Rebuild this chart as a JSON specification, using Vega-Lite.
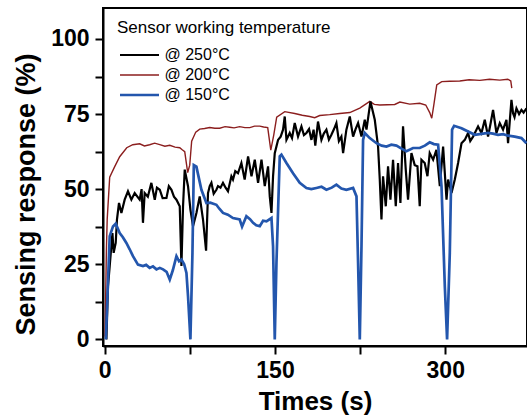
{
"$schema": "https://vega.github.io/schema/vega-lite/v6.json",
"width": 424,
"height": 338,
"autosize": "none",
"padding": {"left": 103, "top": 8, "right": 0, "bottom": 69},
"background": "white",
"config": {
 "view": {"stroke": "black", "strokeWidth": 2},
 "font": "Liberation Sans",
 "axis": {"domainColor": "black", "domainWidth": 2, "tickColor": "black", "tickWidth": 2, "tickSize": 8, "grid": false,
  "labelFont": "Liberation Sans", "labelFontWeight": "bold", "labelFontSize": 23, "labelColor": "black", "labelFlush": false,
  "titleFont": "Liberation Sans", "titleFontWeight": "bold", "titleColor": "black"},
 "legend": {"titleFont": "Liberation Sans", "titleFontWeight": "normal", "titleFontSize": 17, "titleColor": "black", "titleLimit": 400,
  "labelFont": "Liberation Sans", "labelFontSize": 16, "labelColor": "black"}
},
"datasets": {
 "d200": [
  {"time":0.3,"response":1,"series":"@ 200°C"},{"time":1.5,"response":30,"series":"@ 200°C"},{"time":2.2,"response":40,"series":"@ 200°C"},{"time":4.4,"response":54,"series":"@ 200°C"},{"time":8.8,"response":57.5,"series":"@ 200°C"},{"time":13.2,"response":60.8,"series":"@ 200°C"},{"time":19.4,"response":63.8,"series":"@ 200°C"},{"time":24.7,"response":64.8,"series":"@ 200°C"},{"time":30.8,"response":65.1,"series":"@ 200°C"},{"time":35,"response":64.4,"series":"@ 200°C"},{"time":39.6,"response":64.8,"series":"@ 200°C"},{"time":44,"response":65.3,"series":"@ 200°C"},{"time":48.5,"response":64.8,"series":"@ 200°C"},{"time":53,"response":64.3,"series":"@ 200°C"},{"time":57.3,"response":64.6,"series":"@ 200°C"},{"time":62,"response":64,"series":"@ 200°C"},{"time":66.1,"response":63.8,"series":"@ 200°C"},{"time":68,"response":63.2,"series":"@ 200°C"},{"time":70.5,"response":62.5,"series":"@ 200°C"},{"time":73.1,"response":55.5,"series":"@ 200°C"},{"time":74.9,"response":58,"series":"@ 200°C"},{"time":76.6,"response":66,"series":"@ 200°C"},{"time":80.2,"response":69,"series":"@ 200°C"},{"time":83.7,"response":70,"series":"@ 200°C"},{"time":88,"response":70.2,"series":"@ 200°C"},{"time":92.5,"response":70.5,"series":"@ 200°C"},{"time":97,"response":70.3,"series":"@ 200°C"},{"time":101.3,"response":70.3,"series":"@ 200°C"},{"time":106,"response":70.8,"series":"@ 200°C"},{"time":110.1,"response":70.6,"series":"@ 200°C"},{"time":114,"response":70.4,"series":"@ 200°C"},{"time":118.9,"response":70.8,"series":"@ 200°C"},{"time":123.5,"response":70.5,"series":"@ 200°C"},{"time":127.8,"response":70.5,"series":"@ 200°C"},{"time":132,"response":71,"series":"@ 200°C"},{"time":136.6,"response":71,"series":"@ 200°C"},{"time":140,"response":70.7,"series":"@ 200°C"},{"time":143.6,"response":70.5,"series":"@ 200°C"},{"time":146.3,"response":63,"series":"@ 200°C"},{"time":148.9,"response":68,"series":"@ 200°C"},{"time":151.5,"response":74,"series":"@ 200°C"},{"time":158.6,"response":75.8,"series":"@ 200°C"},{"time":167.4,"response":75.2,"series":"@ 200°C"},{"time":174,"response":74.6,"series":"@ 200°C"},{"time":180.6,"response":74.2,"series":"@ 200°C"},{"time":185,"response":73.8,"series":"@ 200°C"},{"time":189.4,"response":74.5,"series":"@ 200°C"},{"time":198.2,"response":74.8,"series":"@ 200°C"},{"time":207,"response":75.2,"series":"@ 200°C"},{"time":215.9,"response":75.5,"series":"@ 200°C"},{"time":224.7,"response":77,"series":"@ 200°C"},{"time":233.5,"response":79.2,"series":"@ 200°C"},{"time":237.5,"response":78.2,"series":"@ 200°C"},{"time":242.3,"response":78,"series":"@ 200°C"},{"time":255.5,"response":78.2,"series":"@ 200°C"},{"time":260,"response":79,"series":"@ 200°C"},{"time":268.7,"response":78.3,"series":"@ 200°C"},{"time":277.5,"response":78.6,"series":"@ 200°C"},{"time":282.8,"response":78,"series":"@ 200°C"},{"time":286.3,"response":75.5,"series":"@ 200°C"},{"time":288.1,"response":73.6,"series":"@ 200°C"},{"time":289.9,"response":78,"series":"@ 200°C"},{"time":292.5,"response":84.7,"series":"@ 200°C"},{"time":296.9,"response":85.8,"series":"@ 200°C"},{"time":304,"response":85.9,"series":"@ 200°C"},{"time":312.8,"response":86,"series":"@ 200°C"},{"time":321,"response":86.4,"series":"@ 200°C"},{"time":330.4,"response":86.2,"series":"@ 200°C"},{"time":339,"response":86.6,"series":"@ 200°C"},{"time":348,"response":86.3,"series":"@ 200°C"},{"time":355.1,"response":86.6,"series":"@ 200°C"},{"time":357.7,"response":86,"series":"@ 200°C"},{"time":358.6,"response":83.6,"series":"@ 200°C"}
 ],
 "d250": [
  {"time":1.5,"response":0,"series":"@ 250°C"},{"time":2.9,"response":17.7,"series":"@ 250°C"},{"time":4.4,"response":24.4,"series":"@ 250°C"},{"time":6.8,"response":35.4,"series":"@ 250°C"},{"time":7.9,"response":28.8,"series":"@ 250°C"},{"time":9.7,"response":32.1,"series":"@ 250°C"},{"time":10.8,"response":39.9,"series":"@ 250°C"},{"time":12.6,"response":45.4,"series":"@ 250°C"},{"time":14.7,"response":42.1,"series":"@ 250°C"},{"time":17.6,"response":46.5,"series":"@ 250°C"},{"time":20.5,"response":49.3,"series":"@ 250°C"},{"time":23.5,"response":46.5,"series":"@ 250°C"},{"time":26.4,"response":48.7,"series":"@ 250°C"},{"time":30.8,"response":46.5,"series":"@ 250°C"},{"time":32.5,"response":50,"series":"@ 250°C"},{"time":33.7,"response":38.8,"series":"@ 250°C"},{"time":35.2,"response":48.7,"series":"@ 250°C"},{"time":38,"response":47.5,"series":"@ 250°C"},{"time":41.1,"response":52.1,"series":"@ 250°C"},{"time":44.1,"response":46.5,"series":"@ 250°C"},{"time":46,"response":50.5,"series":"@ 250°C"},{"time":48.5,"response":49.8,"series":"@ 250°C"},{"time":51,"response":47,"series":"@ 250°C"},{"time":54.4,"response":47.1,"series":"@ 250°C"},{"time":56.5,"response":51,"series":"@ 250°C"},{"time":58.8,"response":49.8,"series":"@ 250°C"},{"time":61,"response":47.5,"series":"@ 250°C"},{"time":63.2,"response":46.5,"series":"@ 250°C"},{"time":66.1,"response":44.3,"series":"@ 250°C"},{"time":67.6,"response":24.4,"series":"@ 250°C"},{"time":69,"response":44.3,"series":"@ 250°C"},{"time":70.5,"response":56.5,"series":"@ 250°C"},{"time":73.4,"response":51,"series":"@ 250°C"},{"time":75.5,"response":43.2,"series":"@ 250°C"},{"time":77.8,"response":37.7,"series":"@ 250°C"},{"time":80.8,"response":42.1,"series":"@ 250°C"},{"time":83.7,"response":47.6,"series":"@ 250°C"},{"time":86.6,"response":39.9,"series":"@ 250°C"},{"time":89.3,"response":29.5,"series":"@ 250°C"},{"time":91,"response":48.7,"series":"@ 250°C"},{"time":92.5,"response":51,"series":"@ 250°C"},{"time":94,"response":52.1,"series":"@ 250°C"},{"time":96,"response":48.5,"series":"@ 250°C"},{"time":98.4,"response":49.8,"series":"@ 250°C"},{"time":99.8,"response":51,"series":"@ 250°C"},{"time":102,"response":50.5,"series":"@ 250°C"},{"time":104.2,"response":52.1,"series":"@ 250°C"},{"time":106.5,"response":50.5,"series":"@ 250°C"},{"time":108.6,"response":49.3,"series":"@ 250°C"},{"time":111.6,"response":54.3,"series":"@ 250°C"},{"time":113,"response":53.2,"series":"@ 250°C"},{"time":115,"response":56,"series":"@ 250°C"},{"time":117.4,"response":55.3,"series":"@ 250°C"},{"time":120.4,"response":58.7,"series":"@ 250°C"},{"time":123.3,"response":53.2,"series":"@ 250°C"},{"time":126.3,"response":60.9,"series":"@ 250°C"},{"time":129.3,"response":54.3,"series":"@ 250°C"},{"time":132.2,"response":59.8,"series":"@ 250°C"},{"time":135.1,"response":52.1,"series":"@ 250°C"},{"time":138.1,"response":59.8,"series":"@ 250°C"},{"time":141,"response":51,"series":"@ 250°C"},{"time":143.9,"response":57.6,"series":"@ 250°C"},{"time":145.4,"response":47.6,"series":"@ 250°C"},{"time":146.9,"response":42.1,"series":"@ 250°C"},{"time":148.3,"response":54.3,"series":"@ 250°C"},{"time":149.8,"response":62,"series":"@ 250°C"},{"time":152.7,"response":66.4,"series":"@ 250°C"},{"time":155,"response":67.5,"series":"@ 250°C"},{"time":157.1,"response":69.8,"series":"@ 250°C"},{"time":158.6,"response":74.2,"series":"@ 250°C"},{"time":160.1,"response":66.4,"series":"@ 250°C"},{"time":163,"response":68.7,"series":"@ 250°C"},{"time":165,"response":67,"series":"@ 250°C"},{"time":167.4,"response":72,"series":"@ 250°C"},{"time":170.3,"response":67.5,"series":"@ 250°C"},{"time":173.3,"response":70.9,"series":"@ 250°C"},{"time":175.5,"response":68,"series":"@ 250°C"},{"time":177.7,"response":68.7,"series":"@ 250°C"},{"time":180,"response":70,"series":"@ 250°C"},{"time":182.1,"response":66.4,"series":"@ 250°C"},{"time":184,"response":69.8,"series":"@ 250°C"},{"time":185.5,"response":64.5,"series":"@ 250°C"},{"time":187.9,"response":72.5,"series":"@ 250°C"},{"time":190.9,"response":66.4,"series":"@ 250°C"},{"time":193,"response":68.5,"series":"@ 250°C"},{"time":195.3,"response":69.8,"series":"@ 250°C"},{"time":197.5,"response":66.5,"series":"@ 250°C"},{"time":199.7,"response":68.1,"series":"@ 250°C"},{"time":202,"response":70,"series":"@ 250°C"},{"time":204.1,"response":72,"series":"@ 250°C"},{"time":206.3,"response":66,"series":"@ 250°C"},{"time":208.5,"response":67.5,"series":"@ 250°C"},{"time":210,"response":62,"series":"@ 250°C"},{"time":212.9,"response":69.8,"series":"@ 250°C"},{"time":215.9,"response":74.2,"series":"@ 250°C"},{"time":218.8,"response":67.5,"series":"@ 250°C"},{"time":221,"response":70,"series":"@ 250°C"},{"time":223.2,"response":72,"series":"@ 250°C"},{"time":226.2,"response":67.5,"series":"@ 250°C"},{"time":229.1,"response":73.1,"series":"@ 250°C"},{"time":230.6,"response":69.8,"series":"@ 250°C"},{"time":234.1,"response":79.2,"series":"@ 250°C"},{"time":237.9,"response":73.1,"series":"@ 250°C"},{"time":240.8,"response":64.2,"series":"@ 250°C"},{"time":242.3,"response":53.2,"series":"@ 250°C"},{"time":243.8,"response":39.9,"series":"@ 250°C"},{"time":245.2,"response":54.3,"series":"@ 250°C"},{"time":247.6,"response":44.3,"series":"@ 250°C"},{"time":249.6,"response":57.6,"series":"@ 250°C"},{"time":251.7,"response":46.5,"series":"@ 250°C"},{"time":254,"response":59.8,"series":"@ 250°C"},{"time":256.4,"response":44.3,"series":"@ 250°C"},{"time":258.4,"response":58.7,"series":"@ 250°C"},{"time":260.5,"response":45.4,"series":"@ 250°C"},{"time":262.8,"response":70.9,"series":"@ 250°C"},{"time":265.2,"response":56.5,"series":"@ 250°C"},{"time":267.2,"response":46.5,"series":"@ 250°C"},{"time":270.2,"response":62,"series":"@ 250°C"},{"time":273.1,"response":58,"series":"@ 250°C"},{"time":275.5,"response":57.6,"series":"@ 250°C"},{"time":277.5,"response":44.3,"series":"@ 250°C"},{"time":279,"response":59.8,"series":"@ 250°C"},{"time":281.9,"response":58.7,"series":"@ 250°C"},{"time":284.3,"response":54.3,"series":"@ 250°C"},{"time":286.3,"response":62,"series":"@ 250°C"},{"time":289.3,"response":59.8,"series":"@ 250°C"},{"time":292.2,"response":63.1,"series":"@ 250°C"},{"time":295.2,"response":51,"series":"@ 250°C"},{"time":298.1,"response":64.2,"series":"@ 250°C"},{"time":301.1,"response":46.5,"series":"@ 250°C"},{"time":302.5,"response":53.2,"series":"@ 250°C"},{"time":305.5,"response":48.7,"series":"@ 250°C"},{"time":308.4,"response":53.2,"series":"@ 250°C"},{"time":311.3,"response":58.7,"series":"@ 250°C"},{"time":314.3,"response":65.3,"series":"@ 250°C"},{"time":317.2,"response":66.4,"series":"@ 250°C"},{"time":320.1,"response":68.7,"series":"@ 250°C"},{"time":322,"response":66,"series":"@ 250°C"},{"time":324.5,"response":67.5,"series":"@ 250°C"},{"time":326.5,"response":69,"series":"@ 250°C"},{"time":328.9,"response":70.9,"series":"@ 250°C"},{"time":331.9,"response":68.7,"series":"@ 250°C"},{"time":334.8,"response":73.1,"series":"@ 250°C"},{"time":337.7,"response":67.5,"series":"@ 250°C"},{"time":340,"response":72,"series":"@ 250°C"},{"time":342.1,"response":76.4,"series":"@ 250°C"},{"time":345.1,"response":68.7,"series":"@ 250°C"},{"time":348,"response":72,"series":"@ 250°C"},{"time":350.9,"response":69.8,"series":"@ 250°C"},{"time":353.9,"response":73.1,"series":"@ 250°C"},{"time":355.3,"response":65.3,"series":"@ 250°C"},{"time":358.3,"response":79.7,"series":"@ 250°C"},{"time":359.7,"response":75.3,"series":"@ 250°C"},{"time":361,"response":74,"series":"@ 250°C"},{"time":362.7,"response":76.9,"series":"@ 250°C"},{"time":365,"response":75,"series":"@ 250°C"},{"time":367.1,"response":76.4,"series":"@ 250°C"},{"time":369,"response":75.5,"series":"@ 250°C"},{"time":371.5,"response":76.9,"series":"@ 250°C"}
 ],
 "d150": [
  {"time":1,"response":0,"series":"@ 150°C"},{"time":2.5,"response":15,"series":"@ 150°C"},{"time":4.4,"response":34.3,"series":"@ 150°C"},{"time":7.3,"response":37.6,"series":"@ 150°C"},{"time":9.7,"response":38.5,"series":"@ 150°C"},{"time":13.2,"response":35.4,"series":"@ 150°C"},{"time":16,"response":34,"series":"@ 150°C"},{"time":19.1,"response":32.1,"series":"@ 150°C"},{"time":22,"response":30,"series":"@ 150°C"},{"time":24.9,"response":27.7,"series":"@ 150°C"},{"time":29.3,"response":24.9,"series":"@ 150°C"},{"time":33.7,"response":24.4,"series":"@ 150°C"},{"time":36.5,"response":24.8,"series":"@ 150°C"},{"time":39.6,"response":23.8,"series":"@ 150°C"},{"time":42.5,"response":24.3,"series":"@ 150°C"},{"time":45.6,"response":23.3,"series":"@ 150°C"},{"time":48.5,"response":23.8,"series":"@ 150°C"},{"time":51.4,"response":23.3,"series":"@ 150°C"},{"time":54.5,"response":22.5,"series":"@ 150°C"},{"time":57.3,"response":19.9,"series":"@ 150°C"},{"time":60,"response":23,"series":"@ 150°C"},{"time":63.2,"response":27.7,"series":"@ 150°C"},{"time":65.5,"response":26,"series":"@ 150°C"},{"time":67.6,"response":26.6,"series":"@ 150°C"},{"time":70,"response":25,"series":"@ 150°C"},{"time":72,"response":22.1,"series":"@ 150°C"},{"time":73.4,"response":14.4,"series":"@ 150°C"},{"time":75.5,"response":0,"series":"@ 150°C"},{"time":77.3,"response":28.8,"series":"@ 150°C"},{"time":78.5,"response":58,"series":"@ 150°C"},{"time":80.8,"response":57.5,"series":"@ 150°C"},{"time":82.2,"response":55,"series":"@ 150°C"},{"time":85.2,"response":49.8,"series":"@ 150°C"},{"time":89.6,"response":45.4,"series":"@ 150°C"},{"time":93,"response":45.5,"series":"@ 150°C"},{"time":98.4,"response":44.8,"series":"@ 150°C"},{"time":101,"response":43.5,"series":"@ 150°C"},{"time":104.2,"response":42.1,"series":"@ 150°C"},{"time":108.5,"response":41.5,"series":"@ 150°C"},{"time":113,"response":40.4,"series":"@ 150°C"},{"time":118.9,"response":39.9,"series":"@ 150°C"},{"time":121,"response":37.5,"series":"@ 150°C"},{"time":124.8,"response":41,"series":"@ 150°C"},{"time":128,"response":40,"series":"@ 150°C"},{"time":130.7,"response":38.8,"series":"@ 150°C"},{"time":133.5,"response":38,"series":"@ 150°C"},{"time":136.6,"response":37.7,"series":"@ 150°C"},{"time":139.5,"response":39.5,"series":"@ 150°C"},{"time":142.5,"response":39.3,"series":"@ 150°C"},{"time":146.9,"response":40.4,"series":"@ 150°C"},{"time":148.3,"response":31,"series":"@ 150°C"},{"time":149.8,"response":0,"series":"@ 150°C"},{"time":151.3,"response":25.6,"series":"@ 150°C"},{"time":154.2,"response":60.9,"series":"@ 150°C"},{"time":155.7,"response":61.5,"series":"@ 150°C"},{"time":160.1,"response":58.7,"series":"@ 150°C"},{"time":165.9,"response":55.3,"series":"@ 150°C"},{"time":171.8,"response":52.1,"series":"@ 150°C"},{"time":177.7,"response":50.4,"series":"@ 150°C"},{"time":182,"response":50,"series":"@ 150°C"},{"time":186.5,"response":50.4,"series":"@ 150°C"},{"time":191,"response":50.8,"series":"@ 150°C"},{"time":195.3,"response":49.8,"series":"@ 150°C"},{"time":200,"response":50.5,"series":"@ 150°C"},{"time":204.1,"response":51.5,"series":"@ 150°C"},{"time":208.5,"response":50.2,"series":"@ 150°C"},{"time":212.9,"response":49.8,"series":"@ 150°C"},{"time":218.8,"response":50.4,"series":"@ 150°C"},{"time":221.8,"response":47.6,"series":"@ 150°C"},{"time":223.2,"response":25.5,"series":"@ 150°C"},{"time":224.7,"response":0,"series":"@ 150°C"},{"time":226.2,"response":31,"series":"@ 150°C"},{"time":227.6,"response":66.4,"series":"@ 150°C"},{"time":229.1,"response":68.7,"series":"@ 150°C"},{"time":233.5,"response":67,"series":"@ 150°C"},{"time":239.4,"response":65.3,"series":"@ 150°C"},{"time":244,"response":64.5,"series":"@ 150°C"},{"time":248.2,"response":64.2,"series":"@ 150°C"},{"time":252.5,"response":64.8,"series":"@ 150°C"},{"time":257,"response":64.5,"series":"@ 150°C"},{"time":261.5,"response":63.5,"series":"@ 150°C"},{"time":265.8,"response":62.6,"series":"@ 150°C"},{"time":271.6,"response":63.7,"series":"@ 150°C"},{"time":277.5,"response":63.7,"series":"@ 150°C"},{"time":282,"response":64.5,"series":"@ 150°C"},{"time":286.3,"response":65.6,"series":"@ 150°C"},{"time":290,"response":65,"series":"@ 150°C"},{"time":293.7,"response":64.8,"series":"@ 150°C"},{"time":296.7,"response":50.9,"series":"@ 150°C"},{"time":299.6,"response":17.7,"series":"@ 150°C"},{"time":301.6,"response":0,"series":"@ 150°C"},{"time":304,"response":28.8,"series":"@ 150°C"},{"time":306,"response":69.8,"series":"@ 150°C"},{"time":307.8,"response":71.1,"series":"@ 150°C"},{"time":314.3,"response":70.3,"series":"@ 150°C"},{"time":320.1,"response":69.2,"series":"@ 150°C"},{"time":326,"response":68.1,"series":"@ 150°C"},{"time":331.9,"response":68.4,"series":"@ 150°C"},{"time":337.7,"response":68.7,"series":"@ 150°C"},{"time":342,"response":68.5,"series":"@ 150°C"},{"time":346.5,"response":68.1,"series":"@ 150°C"},{"time":351,"response":68.3,"series":"@ 150°C"},{"time":355.3,"response":67.8,"series":"@ 150°C"},{"time":361.2,"response":67.5,"series":"@ 150°C"},{"time":367.1,"response":67,"series":"@ 150°C"},{"time":371.5,"response":65.3,"series":"@ 150°C"}
 ]
},
"encoding": {
 "x": {"field": "time", "type": "quantitative", "title": "Times (s)",
  "scale": {"domain": [-1.5, 372], "nice": false, "zero": false},
  "axis": {"values": [0, 75, 150, 225, 300], "labelExpr": "datum.value % 150 === 0 ? datum.label : ''", "labelPadding": 5, "titlePadding": 6, "titleFontSize": 26,
   "encode": {"ticks": {"update": {"y2": {"signal": "datum.value % 150 === 0 ? 8 : 4"}}}}}},
 "y": {"field": "response", "type": "quantitative", "title": "Sensing response (%)",
  "scale": {"domain": [-2.2, 110.3], "nice": false, "zero": false},
  "axis": {"values": [0, 12.5, 25, 37.5, 50, 62.5, 75, 87.5, 100], "labelExpr": "datum.value % 25 === 0 ? datum.label : ''", "labelPadding": 6, "titlePadding": 10, "titleFontSize": 27, "titleY": 186,
   "encode": {"ticks": {"update": {"x2": {"signal": "datum.value % 25 === 0 ? -8 : -4"}}}}}},
 "color": {"field": "series", "type": "nominal",
  "scale": {"domain": ["@ 250°C", "@ 200°C", "@ 150°C"], "range": ["#000000", "#8b1e1e", "#2356ad"]},
  "legend": {"title": "Sensor working temperature", "orient": "none", "legendX": 14, "legendY": 12, "padding": 0,
   "symbolType": "M-3.9,0L3.9,0", "symbolSize": 100, "symbolFillColor": "transparent", "symbolOffset": 14.5, "rowPadding": 4, "titlePadding": 10, "labelOffset": 17}},
 "strokeWidth": {"field": "series", "type": "nominal",
  "scale": {"type": "ordinal", "domain": ["@ 250°C", "@ 200°C", "@ 150°C"], "range": [2.2, 1.4, 2.7]},
  "legend": {"title": "Sensor working temperature", "orient": "none", "legendX": 14, "legendY": 12, "padding": 0,
   "symbolType": "M-3.9,0L3.9,0", "symbolSize": 100, "symbolFillColor": "transparent", "symbolOffset": 14.5, "rowPadding": 4, "titlePadding": 10, "labelOffset": 17}}
},
"layer": [
 {"data": {"name": "d200"}, "mark": {"type": "line", "clip": true}},
 {"data": {"name": "d250"}, "mark": {"type": "line", "clip": true}},
 {"data": {"name": "d150"}, "mark": {"type": "line", "clip": true}}
]
}
